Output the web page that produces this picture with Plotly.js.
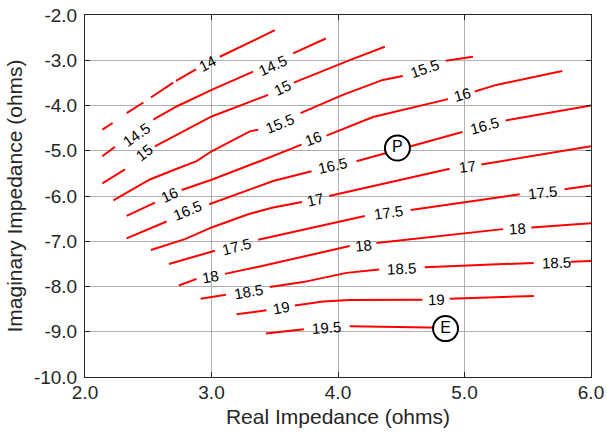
<!DOCTYPE html>
<html>
<head>
<meta charset="utf-8">
<script src="https://cdn.plot.ly/plotly-3.0.1.min.js"></script>
<style>html,body{margin:0;padding:0;background:#fff;}#chart{width:607px;height:436px;}</style>
</head>
<body>
<div id="chart"></div>
<script>
// Contour levels and their polylines (null = break in the line where a label sits)
const levels = [14, 14.5, 15, 15.5, 16, 16.5, 17, 17.5, 18, 18.5, 19, 19.5];

const contourX = [
  [2.137, 2.219, null, 2.329, 2.461, null, 2.521, 2.697, null, 2.719, 2.877, null, 3.066, 3.501],
  [2.137, 2.237, null, 2.540, 2.724, 3.001, 3.329, null, 3.645, 3.904],
  [2.137, 2.316, null, 2.553, 3.001, 3.448, null, 3.651, 4.093, 4.370],
  [2.224, 2.513, 2.711, 2.882, 3.001, 3.303, 3.369, null, 3.704, 4.038, 4.354, 4.512, null, 4.852, 5.067],
  [2.329, 2.553, null, 2.764, 3.001, 3.382, 3.712, null, 3.909, 4.277, 4.870, null, 5.081, 5.252, 5.773],
  [2.329, 2.474, 2.645, null, 2.982, 3.487, 3.791, null, 4.146, 4.983, null, 5.325, 6.0],
  [2.521, 2.790, 3.001, 3.290, 3.487, 3.716, null, 3.930, 4.883, null, 5.133, 6.0],
  [2.664, 3.027, null, 3.369, 4.093, 4.212, null, 4.575, 5.436, null, 5.791, 6.0],
  [2.742, 2.882, null, 3.106, 3.356, 4.093, null, 4.304, 5.304, null, 5.528, 6.0],
  [2.914, 3.114, null, 3.461, 3.724, 4.067, 4.325, null, 4.686, 5.547, null, 5.837, 6.0],
  [3.198, 3.435, null, 3.659, 3.882, 4.093, 4.667, null, 4.883, 5.549],
  [3.430, 3.730, null, 4.093, 4.739, 4.844]
];
const contourY = [
  [-4.534, -4.387, null, -4.167, -3.934, null, -3.824, -3.495, null, -3.457, -3.200, null, -2.923, -2.336],
  [-5.121, -4.914, null, -4.314, -4.022, -3.655, -3.253, null, -2.848, -2.519],
  [-5.721, -5.413, null, -4.901, -4.242, -3.765, null, -3.495, -2.996, -2.703],
  [-6.097, -5.635, -5.415, -5.231, -5.011, -4.571, -4.534, null, -4.167, -3.765, -3.435, -3.347, null, -3.011, -2.923],
  [-6.440, -6.145, null, -5.868, -5.642, -5.231, -4.864, null, -4.666, -4.255, -3.859, null, -3.692, -3.545, -3.237],
  [-6.936, -6.769, -6.563, null, -6.182, -5.670, -5.451, null, -5.231, -4.585, null, -4.330, -4.0],
  [-7.193, -6.952, -6.695, -6.402, -6.255, -6.132, null, -6.000, -5.398, null, -5.303, -4.901],
  [-7.501, -7.209, null, -6.967, -6.512, -6.440, null, -6.308, -5.963, null, -5.853, -5.765],
  [-7.978, -7.831, null, -7.721, -7.574, -7.105, null, -7.040, -6.732, null, -6.695, -6.600],
  [-8.270, -8.182, null, -8.013, -7.903, -7.699, -7.626, null, -7.574, -7.479, null, -7.451, -7.435],
  [-8.615, -8.527, null, -8.418, -8.330, -8.299, -8.292, null, -8.270, -8.211],
  [-9.040, -8.945, null, -8.879, -8.908, -8.914]
];

// Contour labels
const labelLevel = [14, 14.5, 14.5, 15, 15, 15.5, 15.5, 16, 16, 16, 16.5, 16.5, 16.5, 17, 17, 17.5, 17.5, 17.5, 18, 18, 18, 18.5, 18.5, 18.5, 19, 19, 19.5];
const labelX = [2.966, 2.408, 3.483, 2.468, 3.562, 3.540, 4.686, 2.671, 3.803, 4.983, 2.808, 3.959, 5.160, 3.825, 5.020, 3.198, 4.396, 5.615, 2.993, 4.198, 5.418, 3.295, 4.502, 5.726, 3.554, 4.778, 3.909];
const labelY = [-3.068, -4.644, -3.105, -5.046, -3.596, -4.387, -3.178, -5.962, -4.738, -3.765, -6.330, -5.325, -4.440, -6.088, -5.341, -7.112, -6.365, -5.912, -7.771, -7.084, -6.716, -8.110, -7.596, -7.464, -8.475, -8.286, -8.914];

// Marked points
const pointName = ['P', 'E'];
const pointX = [4.47, 4.85];
const pointY = [-4.94, -8.93];

// Axis ticks
const xTickVals = [2, 3, 4, 5, 6];
const yTickVals = [-10, -9, -8, -7, -6, -5, -4, -3, -2];

const xRange = [2, 6], yRange = [-10, -2];
const W = 607, H = 436;
const M = {l: 85, r: 16, t: 15, b: 57, pad: 0};
const pxX = (W - M.l - M.r) / (xRange[1] - xRange[0]);
const pxY = (H - M.t - M.b) / (yRange[1] - yRange[0]);
const FONT = 'Liberation Sans, Arial, sans-serif';

const traces = levels.map((lv, i) => ({
  type: 'scatter', mode: 'lines', x: contourX[i], y: contourY[i],
  line: {color: '#ff0000', width: 2}, connectgaps: false,
  hoverinfo: 'skip', showlegend: false, name: String(lv)
}));

traces.push({
  type: 'scatter', mode: 'markers+text', x: pointX, y: pointY, text: pointName,
  textposition: 'middle center',
  textfont: {family: FONT, size: 16, color: '#000'},
  marker: {size: 25, color: '#ffffff', line: {color: '#000000', width: 2}},
  hoverinfo: 'skip', showlegend: false
});

// label angle from the gap in the line closest to each label
function labelAngle(k) {
  const i = levels.indexOf(labelLevel[k]);
  const xs = contourX[i], ys = contourY[i];
  let best = null, bd = Infinity;
  for (let j = 1; j < xs.length - 1; j++) {
    if (xs[j] === null && xs[j - 1] !== null && xs[j + 1] !== null) {
      const mx = (xs[j - 1] + xs[j + 1]) / 2, my = (ys[j - 1] + ys[j + 1]) / 2;
      const d = Math.hypot((mx - labelX[k]) * pxX, (my - labelY[k]) * pxY);
      if (d < bd) { bd = d; best = [xs[j - 1], ys[j - 1], xs[j + 1], ys[j + 1]]; }
    }
  }
  if (!best) return 0;
  const dx = (best[2] - best[0]) * pxX, dy = (best[3] - best[1]) * pxY;
  return -Math.atan2(dy, dx) * 180 / Math.PI;
}

const annotations = labelLevel.map((lv, k) => ({
  x: labelX[k], y: labelY[k], xref: 'x', yref: 'y', text: String(lv),
  showarrow: false, textangle: labelAngle(k),
  font: {family: FONT, size: 15, color: '#000'}
}));

const axisCommon = {
  showgrid: true, gridcolor: '#b0b0b0', gridwidth: 1,
  zeroline: false, showline: true, linecolor: '#262626', linewidth: 1,
  mirror: 'ticks', ticks: 'inside', ticklen: 5, tickcolor: '#262626',
  tickmode: 'array',
  tickfont: {family: FONT, size: 19, color: '#262626'}
};

const layout = {
  width: W, height: H, margin: M,
  paper_bgcolor: '#ffffff', plot_bgcolor: '#ffffff',
  font: {family: FONT, color: '#262626'},
  showlegend: false,
  xaxis: Object.assign({}, axisCommon, {
    range: xRange, ticklabelstandoff: -2, automargin: 'bottom',
    tickvals: xTickVals, ticktext: xTickVals.map(v => v.toFixed(1)),
    title: {text: 'Real Impedance (ohms)', font: {size: 21, color: '#262626'}, standoff: 7}
  }),
  yaxis: Object.assign({}, axisCommon, {
    range: yRange, ticklabelstandoff: 3, automargin: 'left',
    tickvals: yTickVals, ticktext: yTickVals.map(v => v.toFixed(1)),
    title: {text: 'Imaginary Impedance (ohms)', font: {size: 21, color: '#262626'}, standoff: 5}
  }),
  annotations: annotations
};

Plotly.newPlot('chart', traces, layout, {displayModeBar: false, staticPlot: true});
</script>
</body>
</html>
